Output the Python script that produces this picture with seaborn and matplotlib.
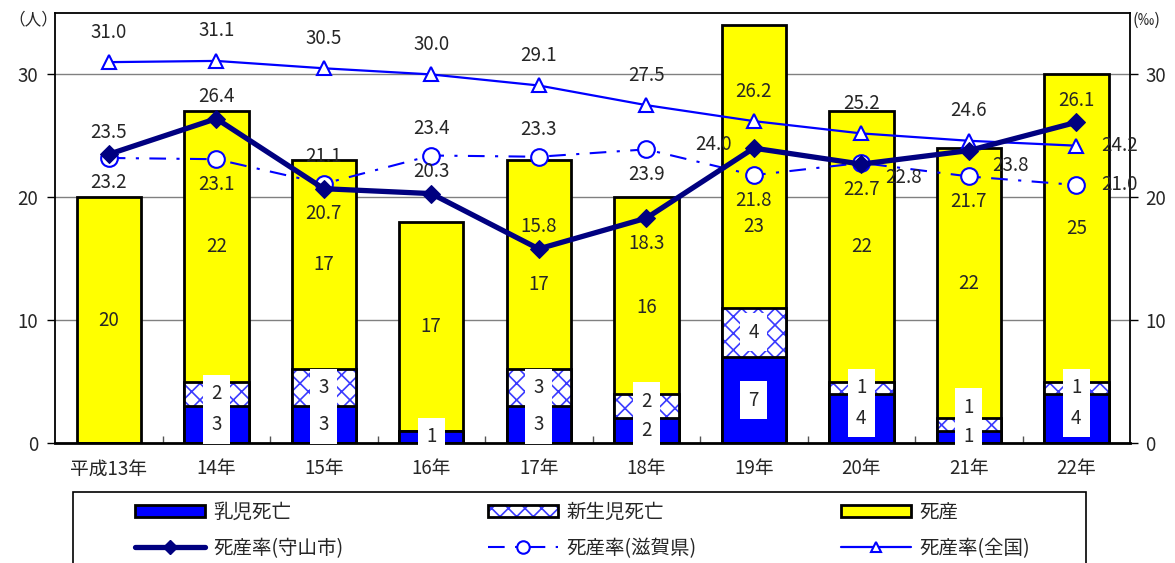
import numpy as np
import pandas as pd
import matplotlib
matplotlib.use("Agg")
import matplotlib.pyplot as plt
from matplotlib.patches import Patch, Rectangle
from matplotlib.lines import Line2D
from matplotlib.ticker import FixedLocator
import seaborn as sns

# ---- data ----
years = ["平成13年", "14年", "15年", "16年", "17年", "18年", "19年", "20年", "21年", "22年"]
infant_deaths = [0, 3, 3, 1, 3, 2, 7, 4, 1, 4]            # 乳児死亡
neonatal_deaths = [0, 2, 3, 0, 3, 2, 4, 1, 1, 1]          # 新生児死亡
stillbirths = [20, 22, 17, 17, 17, 16, 23, 22, 22, 25]    # 死産
rate_moriyama = [23.5, 26.4, 20.7, 20.3, 15.8, 18.3, 24.0, 22.7, 23.8, 26.1]
rate_shiga = [23.2, 23.1, 21.1, 23.4, 23.3, 23.9, 21.8, 22.8, 21.7, 21.0]
rate_national = [31.0, 31.1, 30.5, 30.0, 29.1, 27.5, 26.2, 25.2, 24.6, 24.2]

# side of the marker on which each rate label is written
side_moriyama = ["n", "n", "s", "n", "n", "s", "w", "s", "se", "n"]
side_shiga = ["s", "s", "n", "n", "n", "s", "s", "se", "s", "e"]
side_national = ["n", "n", "n", "n", "n", "n", "n", "n", "n", "e"]
# downward nudge (in counts) of the 死産 labels kept clear of the rate labels
still_label_nudge = [0, 0, 0, 0, -1.6, -1.0, -4.9, 0, 0, 0]

# ---- style ----
sns.set_theme(style="white")
plt.rcParams["font.family"] = ["Noto Sans CJK JP", "DejaVu Sans"]
plt.rcParams["hatch.linewidth"] = 1.2

NAVY = "#000080"
BLUE = "#0000FF"
HATCH_BLUE = "#3a3aff"
YELLOW = "#FFFF00"
FS = 13.5
PX = 0.72  # points per pixel at 100 dpi

df = pd.DataFrame({
    "year": years,
    "infant": infant_deaths,
    "neonatal": neonatal_deaths,
    "still": stillbirths,
})
df["mid"] = df["infant"] + df["neonatal"]
df["total"] = df["mid"] + df["still"]

fig = plt.figure(figsize=(11.75, 5.63), dpi=100)
ax = fig.add_axes([55 / 1175, 1 - 443 / 563, (1130 - 55) / 1175, (443 - 13) / 563])

# stacked bars drawn as overlapping cumulative bars
sns.barplot(data=df, x="year", y="total", color=YELLOW, saturation=1, width=0.6,
            edgecolor="black", linewidth=2, ax=ax, zorder=2)
sns.barplot(data=df, x="year", y="mid", color="white", saturation=1, width=0.6,
            edgecolor=HATCH_BLUE, linewidth=0, hatch="xx", ax=ax, zorder=2)
sns.barplot(data=df, x="year", y="mid", color="black", fill=False, width=0.6,
            linewidth=2, ax=ax, zorder=2)
sns.barplot(data=df, x="year", y="infant", color=BLUE, saturation=1, width=0.6,
            edgecolor="black", linewidth=2, ax=ax, zorder=2)

ax.set_xlim(-0.5, len(years) - 0.5)
ax.set_ylim(0, 35)
ax.set_yticks([0, 10, 20, 30])
ax.set_xlabel("")
ax.set_ylabel("")
ax.yaxis.grid(True, color="#808080", linewidth=1)
ax.set_axisbelow(True)
for s in ax.spines.values():
    s.set_color("black")
    s.set_linewidth(1.3)
ax.spines["bottom"].set_linewidth(2)
ax.tick_params(axis="y", direction="out", length=6, width=1, color="black",
               labelsize=FS, pad=6, left=True)
ax.tick_params(axis="x", which="major", length=0, labelsize=FS, pad=11)
ax.xaxis.set_minor_locator(FixedLocator(np.arange(0.5, len(years) - 1, 1)))
ax.tick_params(axis="x", which="minor", direction="in", length=5, width=1,
               color="#555555", bottom=True)

# value labels on the bar segments
box = dict(boxstyle="square,pad=0.45", facecolor="white", edgecolor="none")
for i, (inf, neo, st) in enumerate(zip(infant_deaths, neonatal_deaths, stillbirths)):
    y_inf = inf / 2
    y_neo = inf + neo / 2
    if inf > 0 and neo > 0 and y_neo - y_inf < 2.4:
        y_neo = y_inf + 2.4
    if inf > 0:
        ax.text(i, y_inf, str(inf), ha="center", va="center", fontsize=FS,
                bbox=box, zorder=4)
    if neo > 0:
        ax.text(i, y_neo, str(neo), ha="center", va="center", fontsize=FS,
                bbox=box, zorder=4)
    ax.text(i, inf + neo + st / 2 + still_label_nudge[i], str(st), ha="center",
            va="center", fontsize=FS, zorder=4)

# rate lines on the right-hand axis
ax2 = ax.twinx()
idx = np.arange(len(years))
sns.lineplot(x=idx, y=rate_national, ax=ax2, color=BLUE, linewidth=1.6,
             marker="^", markersize=10, markerfacecolor="white",
             markeredgecolor=BLUE, markeredgewidth=1.5, zorder=3)
sns.lineplot(x=idx, y=rate_shiga, ax=ax2, color=BLUE, linewidth=1.5,
             linestyle=(0, (8, 5, 1.5, 5)),
             marker="o", markersize=12, markerfacecolor="white",
             markeredgecolor=BLUE, markeredgewidth=1.5, zorder=4)
sns.lineplot(x=idx, y=rate_moriyama, ax=ax2, color=NAVY, linewidth=3.8,
             marker="D", markersize=9.5, markerfacecolor=NAVY,
             markeredgecolor=NAVY, zorder=5)
ax2.set_ylim(0, 35)
ax2.set_yticks([0, 10, 20, 30])
ax2.set_xlim(-0.5, len(years) - 0.5)
ax2.set_xlabel("")
ax2.set_ylabel("")
ax2.grid(False)
for s in ax2.spines.values():
    s.set_visible(False)
ax2.tick_params(axis="y", direction="out", length=6, width=1, color="black",
                labelsize=FS, pad=5, right=True)


def rate_labels(values, sides, up, down):
    offsets = {
        "n": (0, up), "s": (0, -down), "e": (43, 0),
        "se": (42, -15), "w": (-40, 4),
    }
    for i, (v, s) in enumerate(zip(values, sides)):
        dx, dy = offsets[s]
        ax2.annotate(f"{v:.1f}", (i, v), xytext=(dx * PX, dy * PX),
                     textcoords="offset points", ha="center", va="center",
                     fontsize=FS, zorder=6)


rate_labels(rate_national, side_national, 30, 26)
rate_labels(rate_shiga, side_shiga, 27, 25)
rate_labels(rate_moriyama, side_moriyama, 22, 25)

fig.text(8 / 1175, 1 - 20 / 563, "（人）", fontsize=12, ha="left", va="center")
fig.text(1133 / 1175, 1 - 20 / 563, "(‰)", fontsize=12, ha="left", va="center")

# legend
h_infant = Patch(facecolor=BLUE, edgecolor="black", linewidth=2)
h_neonatal = (Patch(facecolor="white", edgecolor=HATCH_BLUE, linewidth=0, hatch="xx"),
              Patch(fill=False, edgecolor="black", linewidth=2))
h_still = Patch(facecolor=YELLOW, edgecolor="black", linewidth=2)
h_mor = Line2D([], [], color=NAVY, linewidth=3.8, marker="D", markersize=7,
               markerfacecolor=NAVY)
h_shi = Line2D([], [], color=BLUE, linewidth=1.5, linestyle=(0, (8, 5, 1.5, 5)),
               marker="o", markersize=9, markerfacecolor="white",
               markeredgecolor=BLUE, markeredgewidth=1.5)
h_nat = Line2D([], [], color=BLUE, linewidth=1.6, marker="^", markersize=7,
               markerfacecolor="white", markeredgecolor=BLUE, markeredgewidth=1.5)
handles = [h_infant, h_mor, h_neonatal, h_shi, h_still, h_nat]
labels = ["乳児死亡", "死産率(守山市)", "新生児死亡", "死産率(滋賀県)", "死産", "死産率(全国)"]
fig.legend(handles, labels, ncol=3, loc="center",
           bbox_to_anchor=(135 / 1175, 1 - 530.5 / 563, (1030 - 135) / 1175, 0),
           bbox_transform=fig.transFigure, mode="expand", frameon=False,
           fontsize=14, handlelength=3.6, handleheight=0.55, handletextpad=0.45,
           borderpad=0, borderaxespad=0, labelspacing=0.75)
fig.add_artist(Rectangle((73 / 1175, -0.02), (1086 - 73) / 1175, 1 - 492 / 563 + 0.02,
                         transform=fig.transFigure, fill=False,
                         edgecolor="black", linewidth=1.2))

fig.savefig("out.png", dpi=100)
